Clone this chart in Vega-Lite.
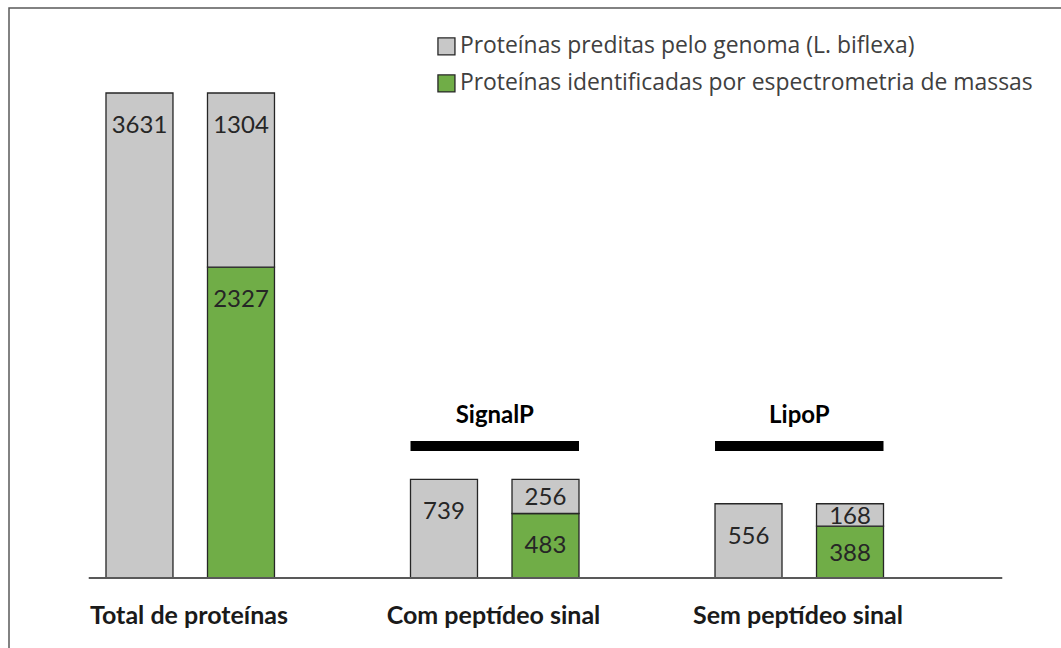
{
  "$schema": "https://vega.github.io/schema/vega-lite/v6.json",
  "width": 1053,
  "height": 641,
  "autosize": {"type": "none"},
  "padding": {"left": 9, "top": 8, "right": 0, "bottom": 0},
  "background": "white",
  "config": {
    "view": {"stroke": "#595959", "strokeWidth": 1.5},
    "font": "Lato",
    "legend": {
      "orient": "none",
      "legendX": 426,
      "legendY": 27,
      "title": null,
      "padding": 0,
      "symbolType": "square",
      "symbolSize": 289,
      "symbolStrokeColor": "#262626",
      "symbolStrokeWidth": 1.3,
      "symbolOpacity": 1,
      "labelFont": "Open Sans",
      "labelFontSize": 22.9,
      "labelColor": "#404040",
      "labelLimit": 800,
      "labelOffset": 2,
      "rowPadding": 13
    }
  },
  "layer": [
    {
      "data": {
        "values": [
          {"group": "Total de proteínas", "bar": "a", "series": "Proteínas preditas pelo genoma (L. biflexa)", "value": 3631},
          {"group": "Total de proteínas", "bar": "b", "series": "Proteínas identificadas por espectrometria de massas", "value": 2327},
          {"group": "Total de proteínas", "bar": "b", "series": "Proteínas preditas pelo genoma (L. biflexa)", "value": 1304},
          {"group": "Com peptídeo sinal", "bar": "a", "series": "Proteínas preditas pelo genoma (L. biflexa)", "value": 739},
          {"group": "Com peptídeo sinal", "bar": "b", "series": "Proteínas identificadas por espectrometria de massas", "value": 483},
          {"group": "Com peptídeo sinal", "bar": "b", "series": "Proteínas preditas pelo genoma (L. biflexa)", "value": 256},
          {"group": "Sem peptídeo sinal", "bar": "a", "series": "Proteínas preditas pelo genoma (L. biflexa)", "value": 556},
          {"group": "Sem peptídeo sinal", "bar": "b", "series": "Proteínas identificadas por espectrometria de massas", "value": 388},
          {"group": "Sem peptídeo sinal", "bar": "b", "series": "Proteínas preditas pelo genoma (L. biflexa)", "value": 168}
        ]
      },
      "transform": [
        {"stack": "value", "groupby": ["group", "bar"], "sort": [{"field": "series", "order": "ascending"}], "as": ["y0", "y1"]},
        {"calculate": "max(datum.y1 - 247, (datum.y0 + datum.y1) / 2 - 15)", "as": "labelY"}
      ],
      "layer": [
        {
          "mark": {"type": "bar", "stroke": "#262626", "strokeWidth": 1.3},
          "encoding": {
            "x": {
              "field": "group",
              "type": "nominal",
              "scale": {
                "domain": ["Total de proteínas", "Com peptídeo sinal", "Sem peptídeo sinal"],
                "paddingInner": 0,
                "paddingOuter": 0.229,
                "align": 0.5717
              },
              "axis": {
                "title": null,
                "domain": false,
                "ticks": false,
                "grid": false,
                "offset": -71,
                "labelOffset": -52,
                "labelFont": "Lato",
                "labelFontSize": 25,
                "labelFontWeight": "bold",
                "labelColor": "#1a1a1a",
                "labelPadding": 45,
                "labelBaseline": "alphabetic",
                "labelAngle": 0,
                "labelLimit": 400
              }
            },
            "xOffset": {
              "field": "bar",
              "type": "nominal",
              "scale": {"domain": ["a", "b", "c"], "paddingInner": 0.34, "paddingOuter": 0.17}
            },
            "y": {
              "field": "y1",
              "type": "quantitative",
              "scale": {"domain": [-531.6, 4267.4], "nice": false, "zero": false},
              "axis": null
            },
            "y2": {"field": "y0"},
            "color": {
              "field": "series",
              "type": "nominal",
              "scale": {
                "domain": ["Proteínas preditas pelo genoma (L. biflexa)", "Proteínas identificadas por espectrometria de massas"],
                "range": ["#C8C8C8", "#70AD47"]
              }
            }
          }
        },
        {
          "mark": {"type": "text", "font": "Lato", "fontSize": 24, "color": "#262626", "baseline": "middle"},
          "encoding": {
            "x": {"field": "group", "type": "nominal"},
            "xOffset": {"field": "bar", "type": "nominal"},
            "y": {"field": "labelY", "type": "quantitative"},
            "text": {"field": "value", "type": "quantitative"}
          }
        }
      ]
    },
    {
      "data": {"values": [{}]},
      "mark": {"type": "rule", "color": "#595959", "strokeWidth": 2},
      "encoding": {
        "x": {"datum": "Total de proteínas", "type": "nominal", "bandPosition": 0},
        "x2": {"datum": "Sem peptídeo sinal", "bandPosition": 1},
        "y": {"datum": 0, "type": "quantitative"}
      }
    },
    {
      "data": {
        "values": [
          {"group": "Com peptídeo sinal", "tool": "SignalP"},
          {"group": "Sem peptídeo sinal", "tool": "LipoP"}
        ]
      },
      "layer": [
        {
          "mark": {"type": "rule", "color": "black", "strokeWidth": 10, "strokeCap": "butt"},
          "encoding": {
            "x": {"field": "group", "type": "nominal", "bandPosition": 0.0567},
            "x2": {"field": "group", "bandPosition": 0.61},
            "y": {"datum": 988, "type": "quantitative"}
          }
        },
        {
          "mark": {"type": "text", "font": "Lato", "fontSize": 24, "fontWeight": "bold", "color": "black", "baseline": "alphabetic"},
          "encoding": {
            "x": {"field": "group", "type": "nominal", "bandPosition": 0.3335},
            "y": {"datum": 1160, "type": "quantitative"},
            "text": {"field": "tool"}
          }
        }
      ]
    }
  ]
}
